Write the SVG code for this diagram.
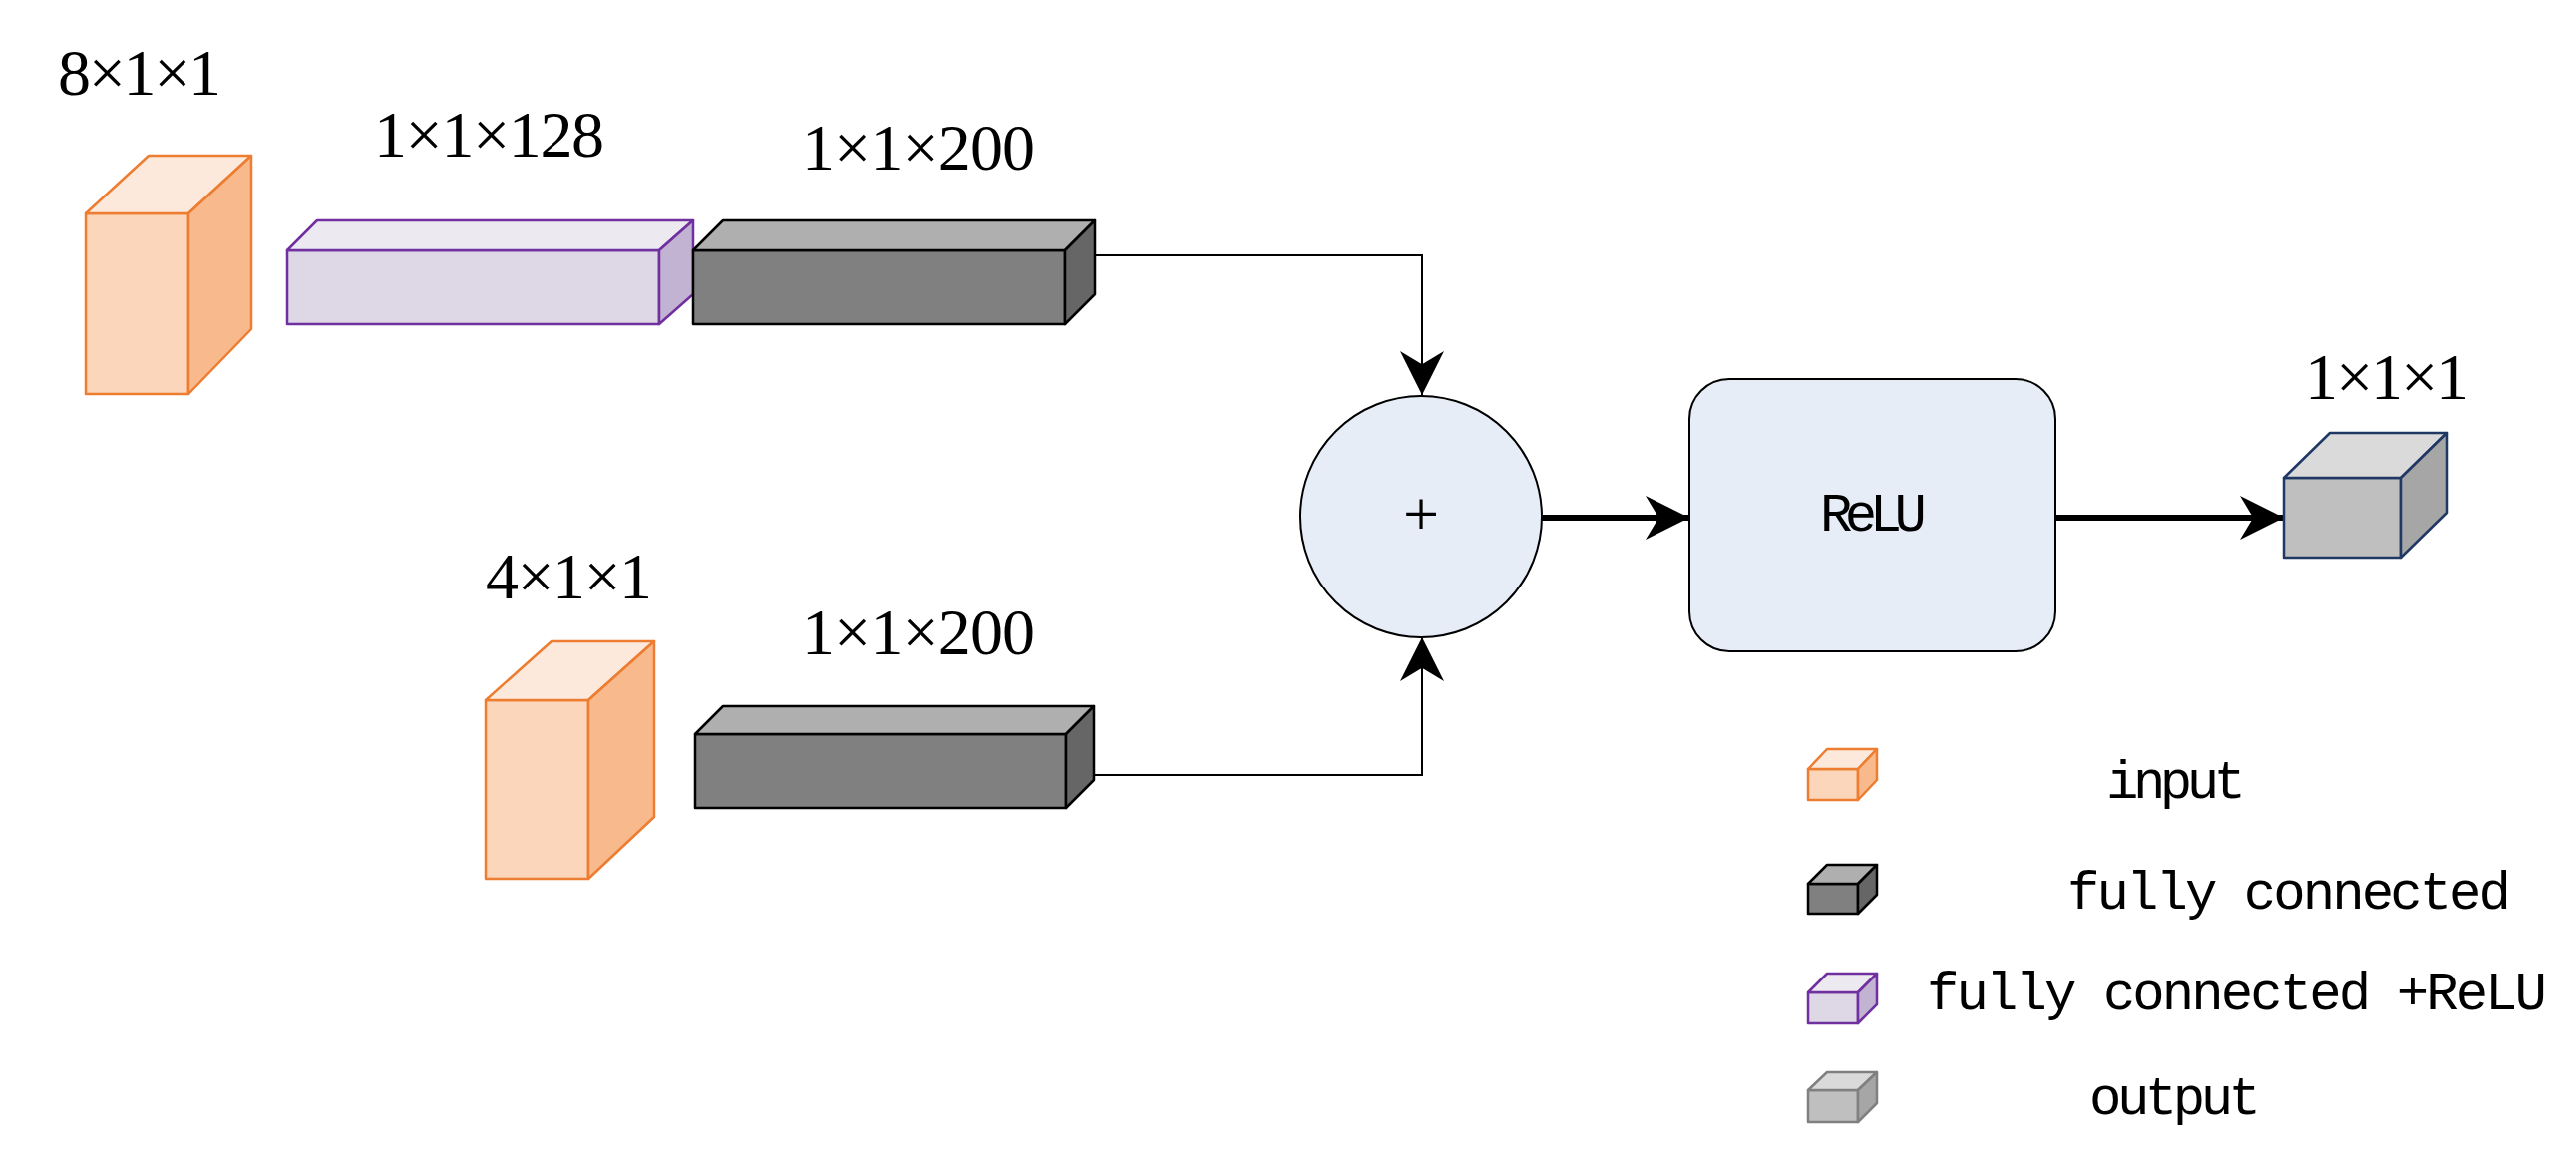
<svg xmlns="http://www.w3.org/2000/svg" width="2583" height="1177" viewBox="0 0 2583 1177">
<defs>
<style>
.lbl{font-family:"Liberation Serif","Times New Roman",serif;font-size:66px;fill:#000}
.mono{font-family:"Liberation Mono","DejaVu Sans Mono",monospace;font-size:54px;fill:#000}
.or{stroke:#ED7D31;stroke-width:2.5;stroke-linejoin:round}
.pu{stroke:#7030A0;stroke-width:2.5;stroke-linejoin:round}
.dk{stroke:#000;stroke-width:2.5;stroke-linejoin:round}
.gy{stroke:#808080;stroke-width:2.5;stroke-linejoin:round}
.nv{stroke:#1F3864;stroke-width:2.5;stroke-linejoin:round}
.thin{fill:none;stroke:#000;stroke-width:2}
.thick{fill:none;stroke:#000;stroke-width:6}
</style>
<marker id="ahb" viewBox="0 0 20 20" refX="20" refY="10" markerWidth="44" markerHeight="44" markerUnits="userSpaceOnUse" orient="auto"><path d="M0,0 L20,10 L0,20 L6,10 Z" fill="#000"/></marker>
</defs>
<rect width="2583" height="1177" fill="#fff"/>
<g id="connectors">
<path class="thin" d="M1098,256 H1426 V396" marker-end="url(#ahb)"/>
<path class="thin" d="M1069,777 H1426 V639" marker-end="url(#ahb)"/>
<path class="thick" d="M1546,519 H1694" marker-end="url(#ahb)"/>
<path class="thick" d="M2061,519 H2290" marker-end="url(#ahb)"/>
</g>
<g id="input1">
<rect class="or" x="86" y="214" width="103" height="181" fill="#FBD6BA"/>
<polygon class="or" points="86,214 149,156 252,156 189,214" fill="#FDE9DC"/>
<polygon class="or" points="189,214 252,156 252,330 189,395" fill="#F8BA8C"/>
<text class="lbl" x="58" y="95" textLength="164">8×1×1</text>
</g>
<g id="fcrelu1">
<rect class="pu" x="288" y="251" width="373" height="74" fill="#DDD7E6"/>
<polygon class="pu" points="288,251 318,221 695,221 661,251" fill="#ECE9F1"/>
<polygon class="pu" points="661,251 695,221 695,295 661,325" fill="#C1B3D1"/>
<text class="lbl" x="375" y="157" textLength="231">1×1×128</text>
</g>
<g id="fc1">
<rect class="dk" x="695" y="251" width="373" height="74" fill="#808080"/>
<polygon class="dk" points="695,251 725,221 1098,221 1068,251" fill="#AFAFAF"/>
<polygon class="dk" points="1068,251 1098,221 1098,295 1068,325" fill="#666666"/>
<text class="lbl" x="804" y="170" textLength="234">1×1×200</text>
</g>
<g id="input2">
<rect class="or" x="487" y="702" width="103" height="179" fill="#FBD6BA"/>
<polygon class="or" points="487,702 553,643 656,643 590,702" fill="#FDE9DC"/>
<polygon class="or" points="590,702 656,643 656,819 590,881" fill="#F8BA8C"/>
<text class="lbl" x="487" y="600" textLength="167">4×1×1</text>
</g>
<g id="fc2">
<rect class="dk" x="697" y="736" width="372" height="74" fill="#808080"/>
<polygon class="dk" points="697,736 725,708 1097,708 1069,736" fill="#AFAFAF"/>
<polygon class="dk" points="1069,736 1097,708 1097,782 1069,810" fill="#666666"/>
<text class="lbl" x="804" y="656" textLength="234">1×1×200</text>
</g>
<g id="sum">
<circle cx="1425" cy="518" r="121" fill="#E6EDF7" stroke="#000" stroke-width="2"/>
<text x="1425" y="537" text-anchor="middle" font-family="Liberation Serif,serif" font-size="64">+</text>
</g>
<g id="relu">
<rect x="1694" y="380" width="367" height="273" rx="40" fill="#E6EDF7" stroke="#000" stroke-width="2"/>
<text class="mono" x="1825" y="532" textLength="107">ReLU</text>
</g>
<g id="output">
<rect class="nv" x="2290" y="479" width="118" height="80" fill="#BFBFBF"/>
<polygon class="nv" points="2290,479 2336,434 2454,434 2408,479" fill="#DADADA"/>
<polygon class="nv" points="2408,479 2454,434 2454,514 2408,559" fill="#A6A6A6"/>
<text class="lbl" x="2311" y="400" textLength="165">1×1×1</text>
</g>
<g id="legend">
<rect class="or" x="1813" y="771" width="50" height="31" fill="#FBD6BA"/>
<polygon class="or" points="1813,771 1832,751 1882,751 1863,771" fill="#FDE9DC"/>
<polygon class="or" points="1863,771 1882,751 1882,782 1863,802" fill="#F8BA8C"/>
<text class="mono" x="2112" y="800" textLength="140">input</text>
<rect class="dk" x="1813" y="886" width="50" height="30" fill="#808080"/>
<polygon class="dk" points="1813,886 1832,867 1882,867 1863,886" fill="#AFAFAF"/>
<polygon class="dk" points="1863,886 1882,867 1882,897 1863,916" fill="#666666"/>
<text class="mono" x="2073" y="911" textLength="445">fully connected</text>
<rect class="pu" x="1813" y="995" width="50" height="31" fill="#DDD7E6"/>
<polygon class="pu" points="1813,995 1832,976 1882,976 1863,995" fill="#ECE9F1"/>
<polygon class="pu" points="1863,995 1882,976 1882,1007 1863,1026" fill="#C1B3D1"/>
<text class="mono" x="1932" y="1012" textLength="622">fully connected +ReLU</text>
<rect class="gy" x="1813" y="1093" width="50" height="32" fill="#BFBFBF"/>
<polygon class="gy" points="1813,1093 1832,1075 1882,1075 1863,1093" fill="#DADADA"/>
<polygon class="gy" points="1863,1093 1882,1075 1882,1106 1863,1125" fill="#A6A6A6"/>
<text class="mono" x="2095" y="1117" textLength="172">output</text>
</g>
</svg>
